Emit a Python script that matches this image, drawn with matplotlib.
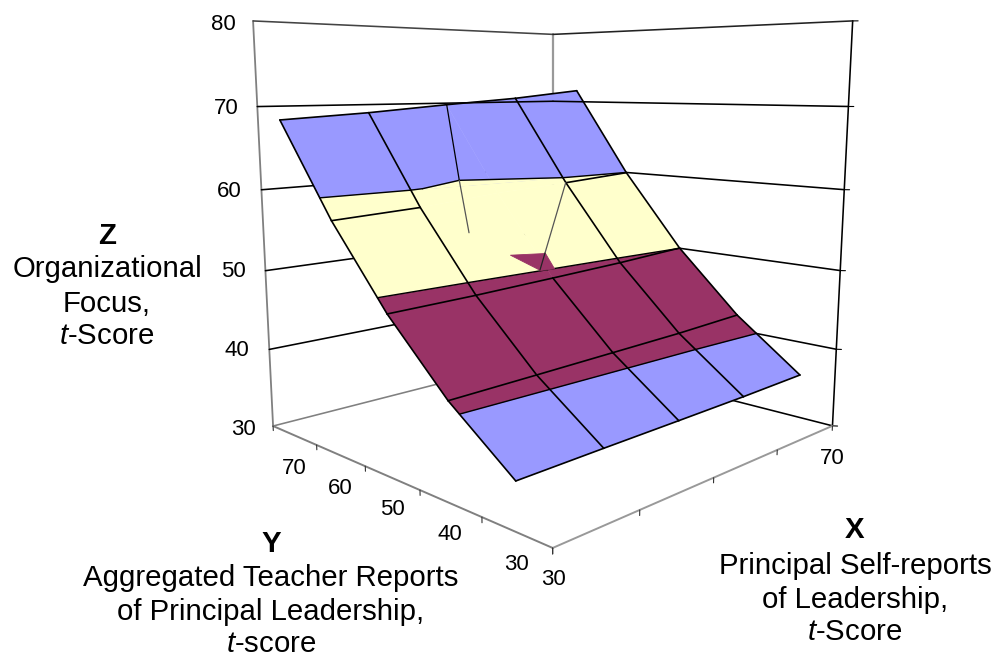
import numpy as np
import matplotlib
matplotlib.use('Agg')
import matplotlib.pyplot as plt
from mpl_toolkits.mplot3d.art3d import Poly3DCollection, Line3DCollection

plt.rcParams['font.family'] = ['Liberation Sans', 'DejaVu Sans']
plt.rcParams['mathtext.fontset'] = 'custom'
plt.rcParams['mathtext.rm'] = 'Liberation Sans'
plt.rcParams['mathtext.it'] = 'Liberation Sans:italic'
plt.rcParams['mathtext.bf'] = 'Liberation Sans:bold'

# ---- data ----
x_grid = [30, 40, 50, 60, 70]
y_grid = [70, 60, 50, 40, 30]
z_y70 = [68.53, 69.12, 69.92, 70.63, 71.62]
z_y60 = [57.60, 58.04, 58.86, 59.35, 59.97]
z_y50 = [48.47, 48.70, 49.07, 49.47, 50.03]
z_y40 = [41.02, 41.21, 41.42, 41.63, 42.01]
z_y30 = [35.21, 35.31, 35.38, 35.47, 35.66]
bands = [(30, 40, '#9999FF'), (40, 50, '#993366'), (50, 60, '#FFFFCC'), (60, 80, '#9999FF')]
contour_levels = [40, 50, 60]
# the fold in the surface around node x=50, y=60
pit_node = (1, 2)
fold_x50 = [(50, 69.96, 69.92), (50, 67.61, 60.0)]
fold_x50_low = [(50, 67.61, 60.0), (50, 65.77, 53.13)]
fold_y60 = [(59.97, 60, 59.35), (56.79, 60, 50.08)]
fold_y60_low = [(56.79, 60, 50.08), (56.03, 60, 47.86)]
fold_patch = [(53.6, 62.66, 50), (57.06, 60.34, 50), (51.01, 51.06, 50), (49.35, 51.43, 50)]
ridge_z60 = [(40, 61.8, 60), (41.7, 62.2, 60), (50, 67.61, 60), (60, 60.6, 60)]

z_ticks = [30, 40, 50, 60, 70, 80]
x_ticks = [30, 40, 50, 60, 70]
y_edges = [25, 35, 45, 55, 65, 75]
x_min, x_max, y_min, y_max, z_min, z_max = 30, 70, 25, 75, 30, 80

# camera fitted to the reference box (data -> image pixels)
camera = np.array([[23.5657795, -5.9839693, -1.6411591, 396.9475937],
                   [1.1948265, 0.9573689, -18.0375836, 1378.7157955],
                   [0.0145473, 0.0116215, -0.0029765, 1.0]])

W, H = 998, 658
fig = plt.figure(figsize=(W / 100, H / 100), dpi=100)
ax = fig.add_axes([0, 0, 1, 1], projection='3d')
ax.set_axis_off()
ax.computed_zorder = False
ax.apply_aspect = lambda position=None: None


def get_proj():
    inv = ax.transData.inverted()
    x0, y0 = inv.transform((0, H))
    x1, y1 = inv.transform((W, 0))
    T = np.array([[(x1 - x0) / W, 0, 0, x0], [0, (y1 - y0) / H, 0, y0], [0, 0, 1, 0], [0, 0, 0, 1.0]])
    M = np.vstack([camera[0], camera[1], [0, 0, 1e-3, 0], camera[2]])
    return T @ M


ax.get_proj = get_proj
ax.set_xlim3d(x_min, x_max)
ax.set_ylim3d(y_min, y_max)
ax.set_zlim3d(z_min, z_max)

Z = np.array([z_y70, z_y60, z_y50, z_y40, z_y30], float)


def seg(p, q, color='k', lw=1.0, zo=1):
    lc = Line3DCollection([[tuple(p), tuple(q)]], colors=color, linewidths=lw, zorder=zo, capstyle='round')
    ax.add_collection3d(lc, autolim=False)


GR = '#808080'
# walls
seg((x_min, y_max, z_min), (x_min, y_max, z_max), GR, 1.3)
seg((x_max, y_max, z_min), (x_max, y_max, z_max), '#999999', 1.6)
seg((x_max, y_min, z_min), (x_max, y_min, z_max), 'k', 1.15)
for zt in z_ticks:
    if zt == z_min:
        lc_l, lc_r = GR, 'k'
    elif zt == z_max:
        lc_l, lc_r = '#444444', '#222222'
    else:
        lc_l, lc_r = 'k', 'k'
    zo = 6 if zt == 70 else 1
    seg((x_min, y_max, zt), (x_max, y_max, zt), lc_l, 1.15, zo)
    seg((x_max, y_max, zt), (x_max, y_min, zt), lc_r, 1.15, zo)
    seg((x_max, y_min, zt), (x_max + 0.3, y_min - 0.5, zt), 'k', 0.8)
# floor front edges and ticks
seg((x_min, y_min, z_min), (x_min, y_max, z_min), GR, 1.4)
seg((x_min, y_min, z_min), (x_max, y_min, z_min), '#999999', 1.4)
for yt in y_edges:
    seg((x_min, yt, z_min), (x_min, yt, z_min - 0.6), '#333333', 0.8)
for xt in x_ticks:
    seg((xt, y_min, z_min), (xt, y_min, z_min - 0.6), '#333333', 0.8)


# ---- surface bands, clipped from the grid ----
def clip(poly, level, keep_above):
    out = []
    n = len(poly)
    for i in range(n):
        a, b = np.array(poly[i]), np.array(poly[(i + 1) % n])
        ina = a[2] >= level if keep_above else a[2] <= level
        inb = b[2] >= level if keep_above else b[2] <= level
        if ina:
            out.append(tuple(a))
        if ina != inb:
            t = (level - a[2]) / (b[2] - a[2])
            out.append(tuple(a + t * (b - a)))
    return out


def cell(i, j):
    return [(x_grid[j], y_grid[i], Z[i, j]), (x_grid[j + 1], y_grid[i], Z[i, j + 1]),
            (x_grid[j + 1], y_grid[i + 1], Z[i + 1, j + 1]), (x_grid[j], y_grid[i + 1], Z[i + 1, j])]


for lo, hi, col in bands:
    polys = []
    for i in range(4):
        for j in range(4):
            p = clip(clip(cell(i, j), lo, True), hi, False)
            if len(p) >= 3:
                polys.append(p)
    pc = Poly3DCollection(polys, facecolors=col, edgecolors=col, linewidths=0.3, zorder=2)
    ax.add_collection3d(pc, autolim=False)

ax.add_collection3d(Poly3DCollection([ridge_z60], facecolors='#FFFFCC', edgecolors='#FFFFCC',
                                     linewidths=0.3, zorder=3), autolim=False)
ax.add_collection3d(Poly3DCollection([fold_patch], facecolors='#993366', edgecolors='#993366',
                                     linewidths=0.6, zorder=4.5), autolim=False)

# contours
LW = 1.2
for lev in contour_levels:
    for i in range(4):
        for j in range(4):
            if lev == 60 and i == 0 and j in (1, 2):
                continue
            c = cell(i, j)
            pts = []
            for k in range(4):
                a, b = np.array(c[k]), np.array(c[(k + 1) % 4])
                if (a[2] - lev) * (b[2] - lev) < 0:
                    pts.append(a + (lev - a[2]) / (b[2] - a[2]) * (b - a))
            if len(pts) == 2:
                seg(pts[0], pts[1], 'k', LW * 0.85, 4)
for p, q in zip(ridge_z60[:-1], ridge_z60[1:]):
    seg(p, q, 'k', LW * 0.85, 4)

# grid lines on the surface
for i in range(5):
    for j in range(5):
        if j < 4 and (i, j) != pit_node and (i, j + 1) != pit_node:
            seg((x_grid[j], y_grid[i], Z[i, j]), (x_grid[j + 1], y_grid[i], Z[i, j + 1]), 'k', LW, 5)
        if i < 4 and (i, j) != pit_node and (i + 1, j) != pit_node:
            seg((x_grid[j], y_grid[i], Z[i, j]), (x_grid[j], y_grid[i + 1], Z[i + 1, j]), 'k', LW, 5)
seg(*fold_x50, 'k', 0.9, 5)
seg(*fold_x50_low, '#555555', 0.9, 5)
seg(*fold_y60, '#555555', 0.9, 5)
seg(*fold_y60_low, '#222222', 0.9, 5)


# ---- text ----
def T(px, py, s, **kw):
    kw.setdefault('fontsize', 16)
    fig.text(px / W, 1 - (py + 1.5) / H, s, ha='center', va='center', color='k', **kw)


for zt, px, py in zip(z_ticks, [243, 237, 233, 229, 226, 223], [428, 349, 270, 190, 107, 23]):
    T(px, py, str(zt))
for lab, px, py in zip([70, 60, 50, 40, 30], [294, 340, 392, 450, 516], [467, 487, 508, 533, 563]):
    T(px, py, str(lab))
T(553, 578, '30')
T(832, 457, '70')

TS = 21.2
z_title = ['Z', 'Organizational', 'Focus,', r'$\mathit{t}$-Score']
for s, py in zip(z_title, [235, 268, 302, 335]):
    T(107, py, s, fontsize=TS, fontweight='bold' if s == 'Z' else 'normal')
y_title = ['Y', 'Aggregated Teacher Reports', 'of Principal Leadership,', r'$\mathit{t}$-score']
for s, py in zip(y_title, [542, 577, 610, 642.5]):
    T(271, py, s, fontsize=TS, fontweight='bold' if s == 'Y' else 'normal')
x_title = ['X', 'Principal Self-reports', 'of Leadership,', r'$\mathit{t}$-Score']
for s, py in zip(x_title, [529, 564, 598, 631]):
    T(855, py, s, fontsize=TS, fontweight='bold' if s == 'X' else 'normal')

fig.savefig('out.png', dpi=100)
